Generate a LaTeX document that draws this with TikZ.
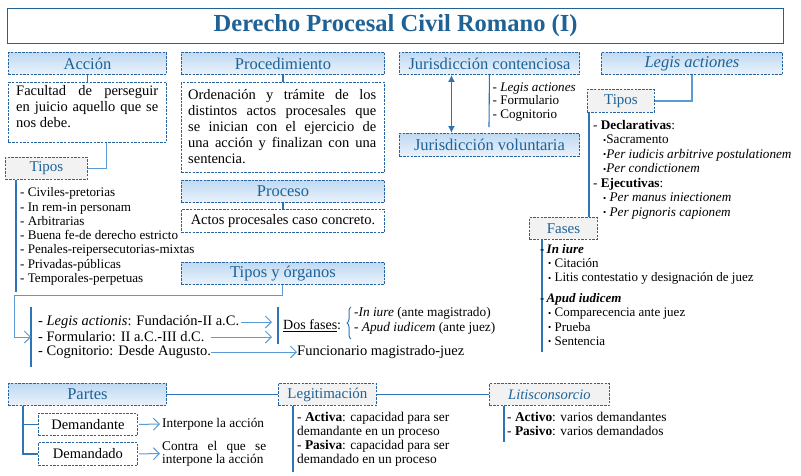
\documentclass[tikz,border=0pt]{standalone}
\usepackage{fontspec}
\setmainfont{Liberation Serif}
\usetikzlibrary{arrows.meta,decorations.pathreplacing,calc}
\definecolor{tblue}{RGB}{30,98,150}
\definecolor{bord}{RGB}{40,100,160}
\definecolor{lin}{RGB}{46,117,182}
\definecolor{lin2}{RGB}{91,155,213}
\definecolor{larr}{RGB}{91,155,213}
\definecolor{htop}{RGB}{192,218,243}
\definecolor{hbot}{RGB}{234,242,251}
\definecolor{gfill}{RGB}{242,242,242}
\newcommand\myfs[2]{\rmfamily\fontsize{#1}{#2}\selectfont}
\newcommand\sbul{{\fontsize{9}{9}\selectfont\raisebox{0.5pt}{•}}}
\begin{document}
\begin{tikzpicture}[x=1pt,y=-1pt,
 bx/.style={draw=bord, dash pattern=on 2.5pt off 1.2pt, line width=0.9pt, inner sep=0pt, anchor=north west, align=center},
 hdr/.style={bx, top color=htop, bottom color=hbot, text=tblue, font=\myfs{16.5}{18}},
 ghdr/.style={bx, fill=gfill, text=tblue, font=\myfs{15}{17}},
 wb/.style={bx, fill=white},
 txt/.style={inner sep=0pt, anchor=north west, align=left},
 one/.style={inner sep=0pt, anchor=west, align=left},
 conn/.style={draw=lin, line width=1.1pt},
 conn2/.style={draw=lin2, line width=1.3pt},
 oarr/.style={draw=larr, line width=1pt, -{Straight Barb[length=6pt,width=12pt]}},
]
\fill[white] (0,0) rectangle (801,475);
\useasboundingbox (0,0) rectangle (801,475);

% title
\node[draw=tblue, line width=1.2pt, minimum width=776pt, minimum height=35pt, anchor=north west, inner sep=0pt, align=center, text=tblue, font=\myfs{24.5}{28}\bfseries] (title) at (7,8) {Derecho Procesal Civil Romano (I)};

% Accion
\node[hdr, minimum width=158pt, minimum height=22pt] (accion) at (8,52) {Acción};
\node[wb, minimum width=158pt, minimum height=60pt] (accdef) at (8,82) {};
\node[txt, text width=142pt, align=justify, font=\myfs{14.5}{16}] (accdeft) at (16,84.3) {\strut Facultad de perseguir\linebreak en juicio aquello que se\linebreak nos debe.};
\draw[conn] (accion.south) -- (accdef.north);

\node[ghdr, minimum width=82pt, minimum height=22pt] (tiposL) at (5,157) {Tipos};
\draw[conn2] ([xshift=19pt]accdef.south) |- (tiposL.east);
\coordinate (tlend) at (16,292);
\draw[conn] (tiposL.south west -| tlend) -- (tlend);
\node[txt, font=\myfs{13.1}{14.27}] (tlist) at (20,186.7) {\strut - Civiles-pretorias\\- In rem-in personam\\- Arbitrarias\\- Buena fe-de derecho estricto\\- Penales-reipersecutorias-mixtas\\- Privadas-públicas\\- Temporales-perpetuas};

% Procedimiento
\node[hdr, minimum width=203pt, minimum height=22pt] (proced) at (181,52) {Procedimiento};
\node[wb, minimum width=203pt, minimum height=90pt] (procdef) at (181,82) {};
\node[txt, text width=188pt, align=justify, font=\myfs{14.5}{16}] (procdeft) at (188,88.3) {\strut Ordenación y trámite de los\linebreak distintos actos procesales que\linebreak se inician con el ejercicio de\linebreak una acción y finalizan con una\linebreak sentencia.};
\draw[conn] (proced.south) -- (procdef.north);

% Proceso
\node[hdr, minimum width=203pt, minimum height=22pt] (proceso) at (181,180) {Proceso};
\node[wb, minimum width=203pt, minimum height=23pt, font=\myfs{14.5}{16}] (procesodef) at (181,209) {Actos procesales caso concreto.};
\draw[conn] (proceso.south) -- (procesodef.north);

% Tipos y organos
\node[hdr, minimum width=203pt, minimum height=22pt] (tyo) at (181,262) {Tipos y órganos};
\coordinate (c1) at (14,295);
\coordinate (c2) at (14,337);
\coordinate (barT) at (31,307);
\coordinate (barB) at (31,367);
\coordinate (barM) at (31,337);
\draw[conn] (barT) -- (barB);
\draw[oarr] (tyo.south) |- (c1) -- (c2) -- (barM);

\node[one, font=\myfs{14.5}{17}] (bm1) at (38,322) {- \textit{Legis actionis}: Fundación-II a.C.};
\node[one, font=\myfs{14.5}{17}] (bm2) at (38,337) {- Formulario: II a.C.-III d.C.};
\node[one, font=\myfs{14.5}{17}] (bm3) at (38,352) {- Cognitorio: Desde Augusto.};
\coordinate (dfT) at (278,307);
\coordinate (dfB) at (278,344);
\draw[conn] (dfT) -- (dfB);
\node[one, font=\myfs{14.5}{17}] (func) at (297,352) {Funcionario magistrado-juez};
\draw[oarr] ([xshift=2pt]bm1.east) -- ($(bm1.east -| dfT)+(-6,0)$);
\draw[oarr] (211,337) coordinate (a2s) -- ($(bm2.east -| dfT)+(-6,0)$);
\draw[oarr] (211,352) coordinate (a3s) -- (func.west);
\node[one, font=\myfs{14}{17}] (dosf) at (283,326) {\underline{Dos fases}:};
\coordinate (brB) at (351,339);
\coordinate (brT) at (351,307);
\draw[draw=lin, line width=1pt, decorate, decoration={brace, amplitude=4pt}] (brB) -- (brT);
\node[txt, font=\myfs{13.3}{15}] (dfl) at (354,306.2) {\strut -\textit{In iure} (ante magistrado)\\- \textit{Apud iudicem} (ante juez)};

% Jurisdiccion
\node[hdr, minimum width=180pt, minimum height=22pt] (jc) at (399,52) {Jurisdicción contenciosa};
\node[hdr, minimum width=180pt, minimum height=23pt] (jv) at (399,133) {Jurisdicción voluntaria};
\draw[draw=lin, line width=1.6pt, {Latex[length=7pt,width=7pt]}-{Latex[length=7pt,width=7pt]}] ([xshift=-38pt]jc.south) -- ([xshift=-38pt]jv.north);
\coordinate (jcl) at (489,127);
\draw[conn] (jc.south) -- (jcl);
\node[txt, font=\myfs{13.1}{13.7}] (jlist) at (492.5,81.5) {\strut - \textit{Legis actiones}\\- Formulario\\- Cognitorio};

% Legis actiones
\node[hdr, minimum width=181pt, minimum height=22pt, font=\myfs{16.5}{18}\itshape] (legis) at (601,52) {Legis actiones};
\node[ghdr, minimum width=67pt, minimum height=23pt] (tiposR) at (587,89) {Tipos};
\draw[conn2] (legis.south) |- (tiposR.east);
\node[ghdr, minimum width=68pt, minimum height=22pt] (fases) at (529,217) {Fases};
\draw[conn] ([xshift=2pt]tiposR.south west) -- ([xshift=2pt]tiposR.south west |- fases.north);
\node[txt, font=\myfs{13.2}{14.5}] (rlist) at (593,118.9) {\strut - \textbf{Declarativas}:\\
\hspace*{10pt}\sbul Sacramento\\
\hspace*{10pt}\sbul\textit{Per iudicis arbitrive postulationem}\\
\hspace*{10pt}\sbul\textit{Per condictionem}\\
- \textbf{Ejecutivas}:\\
\hspace*{10pt}\sbul\ \textit{Per manus iniectionem}\\
\hspace*{10pt}\sbul\ \textit{Per pignoris capionem}};
\coordinate (fend) at (542,352);
\draw[conn] (fases.south west -| fend) -- (fend);
\node[txt, font=\myfs{13}{14.2}] (flist) at (540,243) {\strut -\,\textbf{\textit{In iure}}\\
\hspace*{8pt}\sbul\ Citación\\
\hspace*{8pt}\sbul\ Litis contestatio y designación de juez\\[7pt]
-\,\textbf{\textit{Apud iudicem}}\\
\hspace*{8pt}\sbul\ Comparecencia ante juez\\
\hspace*{8pt}\sbul\ Prueba\\
\hspace*{8pt}\sbul\ Sentencia};

% Partes
\node[hdr, minimum width=158pt, minimum height=22pt] (partes) at (8,383) {Partes};
\node[ghdr, minimum width=98pt, minimum height=22pt] (legit) at (278,383) {Legitimación};
\node[ghdr, minimum width=120pt, minimum height=22pt, font=\myfs{14.5}{17}\itshape] (litis) at (489,383) {Litisconsorcio};
\draw[conn] (partes.east) -- (legit.west);
\draw[conn] (legit.east) -- (litis.west);
\node[wb, minimum width=99pt, minimum height=22pt, font=\myfs{14.5}{17}] (demte) at (38,413) {Demandante};
\node[wb, minimum width=99pt, minimum height=23pt, font=\myfs{14.5}{17}] (demdo) at (38,442) {Demandado};
\draw[conn] ([xshift=15pt]partes.south west) |- (demte.west);
\draw[conn] ([xshift=15pt]partes.south west) |- (demdo.west);
\node[one, font=\myfs{13.3}{15}] (interp) at (162,424) {Interpone la acción};
\node[one, text width=104pt, align=justify, font=\myfs{13.3}{13}] (contra) at (162,453.5) {Contra el que se\linebreak interpone la acción};
\draw[oarr] ([xshift=1pt]demte.east) -- ([xshift=-2pt]interp.west);
\draw[oarr] ([xshift=1pt]demdo.east) -- ([xshift=-2pt]contra.west);

\coordinate (lgend) at (293,472);
\draw[conn] (legit.south west -| lgend) -- (lgend);
\node[txt, font=\myfs{13.4}{14}] (lgt) at (297,411.2) {\strut - \textbf{Activa}: capacidad para ser\\demandante en un proceso\\- \textbf{Pasiva}: capacidad para ser\\demandado en un proceso};
\coordinate (ltend) at (504,442);
\draw[conn] (litis.south west -| ltend) -- (ltend);
\node[txt, font=\myfs{13.4}{14}] (ltt) at (507,411.2) {\strut - \textbf{Activo}: varios demandantes\\- \textbf{Pasivo}: varios demandados};
\end{tikzpicture}
\end{document}
